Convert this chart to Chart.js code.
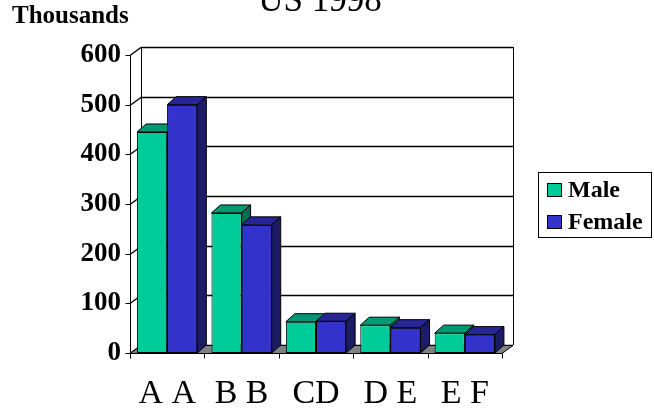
<!DOCTYPE html>
<html>
<head>
<meta charset="utf-8">
<script src="https://cdn.jsdelivr.net/npm/chart.js@4.4.1/dist/chart.umd.min.js"></script>
<style>
  html, body { margin: 0; padding: 0; background: #ffffff; }
  #wrap { width: 654px; height: 408px; }
</style>
</head>
<body>
<div id="wrap"><canvas id="c" width="654" height="408"></canvas></div>
<script>
// Population by group, thousands
const categories = ['A A', 'B B', 'CD', 'D E', 'E F'];
const maleValues = [445, 282, 63, 56, 40];
const femaleValues = [500, 258, 64, 51, 37];
const yTicks = [0, 100, 200, 300, 400, 500, 600];
const seriesNames = ['Male', 'Female'];
const chartTitle = 'US 1998';
const unitLabel = 'Thousands';

const SERIF = '"Liberation Serif", "Times New Roman", "DejaVu Serif", serif';
const FACE = {
  Male:   { front: '#00CC99', top: '#009973', side: '#006B50' },
  Female: { front: '#3333CC', top: '#262699', side: '#1C1C66' }
};
const WALL_DX = 11, WALL_DY = -8;   // depth of walls / floor
const BAR_DX = 9, BAR_DY = -8;      // depth of each column

function poly(ctx, pts, fill) {
  ctx.beginPath();
  ctx.moveTo(pts[0][0], pts[0][1]);
  for (let i = 1; i < pts.length; i++) ctx.lineTo(pts[i][0], pts[i][1]);
  ctx.closePath();
  if (fill) { ctx.fillStyle = fill; ctx.fill(); }
  ctx.stroke();
}

const depthPlugin = {
  id: 'depth3d',
  beforeDatasetsDraw(chart) {
    const { ctx, chartArea: a, scales: { y } } = chart;
    ctx.save();
    ctx.strokeStyle = '#000';
    ctx.lineWidth = 1;
    // back wall
    ctx.fillStyle = '#fff';
    ctx.fillRect(a.left + WALL_DX, a.top + WALL_DY, a.right - a.left, a.bottom - a.top);
    // gridlines on back wall and side wall
    ctx.lineWidth = 1.3;
    yTicks.forEach(v => {
      const py = Math.round(y.getPixelForValue(v)) + 0.5;
      ctx.beginPath();
      ctx.moveTo(a.left, py);
      ctx.lineTo(a.left + WALL_DX, py + WALL_DY);
      ctx.lineTo(a.right + WALL_DX, py + WALL_DY);
      ctx.stroke();
    });
    ctx.lineWidth = 1;
    // wall edges
    ctx.beginPath();
    ctx.moveTo(a.left + WALL_DX + 0.5, a.top + WALL_DY);
    ctx.lineTo(a.left + WALL_DX + 0.5, a.bottom + WALL_DY);
    ctx.moveTo(a.right + WALL_DX + 0.5, a.top + WALL_DY);
    ctx.lineTo(a.right + WALL_DX + 0.5, a.bottom + WALL_DY);
    ctx.stroke();
    // floor
    const b = a.bottom + 0.5;
    poly(ctx, [[a.left, b], [a.right, b], [a.right + WALL_DX, b + WALL_DY], [a.left + WALL_DX, b + WALL_DY]], '#808080');
    ctx.restore();
  },
  afterDatasetsDraw(chart) {
    const { ctx, chartArea: a } = chart;
    const metas = [chart.getDatasetMeta(0), chart.getDatasetMeta(1)];
    ctx.save();
    ctx.strokeStyle = '#000';
    ctx.lineWidth = 1;
    categories.forEach((c, i) => {
      metas.forEach((meta, k) => {
        const el = meta.data[i];
        const f = FACE[seriesNames[k]];
        if (k > 0) el.draw(ctx);  // front face goes over the previous column's depth
        const { x, y, base, width } = el.getProps(['x', 'y', 'base', 'width'], true);
        const l = x - width / 2, r = x + width / 2;
        poly(ctx, [[l, y], [r, y], [r + BAR_DX, y + BAR_DY], [l + BAR_DX, y + BAR_DY]], f.top);
        poly(ctx, [[r, y], [r + BAR_DX, y + BAR_DY], [r + BAR_DX, base + BAR_DY], [r, base]], f.side);
      });
    });
    // front axes with tick marks
    const { y } = chart.scales;
    const L = a.left + 0.5, B = a.bottom + 0.5;
    ctx.beginPath();
    ctx.moveTo(L, a.top);
    ctx.lineTo(L, B);
    ctx.lineTo(a.right, B);
    yTicks.forEach(v => {
      const py = Math.round(y.getPixelForValue(v)) + 0.5;
      ctx.moveTo(L - 5, py);
      ctx.lineTo(L, py);
    });
    const step = (a.right - a.left) / categories.length;
    for (let i = 0; i <= categories.length; i++) {
      const px = Math.round(a.left + i * step) + 0.5;
      ctx.moveTo(px, B);
      ctx.lineTo(px, B + 5);
    }
    ctx.stroke();
    ctx.restore();
  },
  afterDraw(chart) {
    const { ctx } = chart;
    ctx.save();
    ctx.fillStyle = '#000';
    ctx.textBaseline = 'alphabetic';
    // title
    ctx.font = '35px ' + SERIF;
    ctx.textAlign = 'center';
    ctx.fillText(chartTitle, 320, 11);
    // unit label
    ctx.font = 'bold 25px ' + SERIF;
    ctx.textAlign = 'left';
    ctx.fillText(unitLabel, 12, 23);
    // legend
    ctx.strokeStyle = '#000';
    ctx.lineWidth = 1;
    ctx.strokeRect(538.5, 172.5, 113, 65);
    seriesNames.forEach((name, k) => {
      const top = 183 + k * 32;
      ctx.fillStyle = FACE[name].front;
      ctx.fillRect(547, top, 15, 14);
      ctx.strokeRect(547.5, top + 0.5, 14, 13);
      ctx.fillStyle = '#000';
      ctx.font = 'bold 24px ' + SERIF;
      ctx.fillText(name, 568, top + 14);
    });
    ctx.restore();
  }
};

new Chart(document.getElementById('c'), {
  type: 'bar',
  data: {
    labels: categories,
    datasets: [
      { label: seriesNames[0], data: maleValues, backgroundColor: FACE.Male.front },
      { label: seriesNames[1], data: femaleValues, backgroundColor: FACE.Female.front }
    ]
  },
  options: {
    responsive: false,
    animation: false,
    devicePixelRatio: 1,
    layout: { padding: { top: 55, right: 152, left: 0, bottom: 0 } },
    datasets: {
      bar: {
        categoryPercentage: 0.81,
        barPercentage: 1,
        borderColor: '#000',
        borderWidth: 1,
        borderSkipped: false
      }
    },
    plugins: {
      legend: { display: false },
      title: { display: false },
      tooltip: { enabled: false }
    },
    scales: {
      x: {
        grid: { display: false, drawTicks: false },
        border: { display: false },
        ticks: { color: '#000', padding: 21, font: { family: SERIF, size: 34 } },
        afterFit(s) { s.height = 55; }
      },
      y: {
        min: 0,
        max: 600,
        grid: { display: false, drawTicks: false },
        border: { display: false },
        ticks: { color: '#000', padding: 9, font: { family: SERIF, size: 27, weight: 'bold' } },
        afterBuildTicks(s) { s.ticks = yTicks.map(v => ({ value: v })); },
        afterFit(s) { s.width = 130; }
      }
    }
  },
  plugins: [depthPlugin]
});
</script>
</body>
</html>
